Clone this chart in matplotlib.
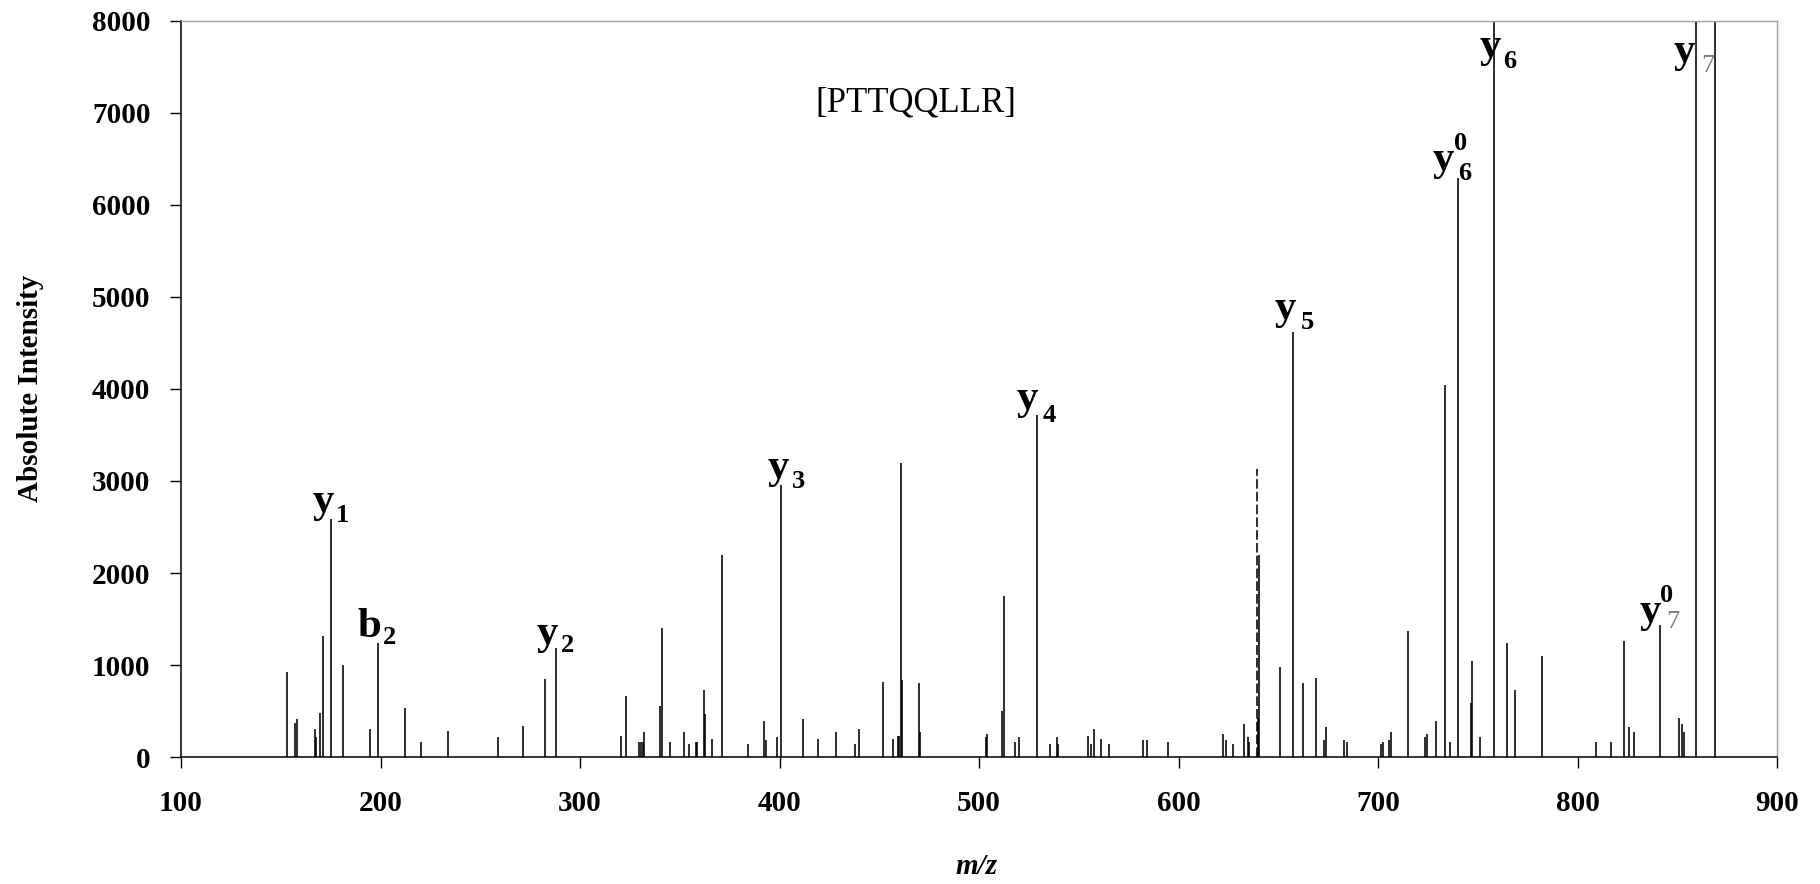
import matplotlib
matplotlib.use("Agg")
import matplotlib.pyplot as plt

# ---- data (m/z, absolute intensity) ----
mz = [153.3, 157.1, 158.0, 167.2, 167.8, 169.5, 171.2, 175.4, 181.0, 194.9,
      198.9, 212.1, 220.1, 234.0, 258.7, 271.6, 282.3, 288.0, 320.6, 323.1,
      329.4, 330.4, 331.4, 331.9, 340.1, 341.0, 345.0, 352.3, 354.8, 358.0,
      358.8, 362.0, 362.8, 366.2, 371.0, 384.2, 392.0, 393.0, 398.9, 401.0,
      412.0, 419.3, 428.2, 438.0, 439.7, 451.9, 456.7, 459.2, 460.0, 460.9,
      461.5, 469.7, 470.5, 503.3, 504.1, 511.5, 512.3, 518.0, 520.3, 529.3,
      535.8, 539.0, 539.8, 554.6, 556.3, 557.8, 561.3, 565.3, 582.3, 584.0,
      594.7, 622.4, 623.9, 627.3, 632.9, 634.7, 635.5, 639.6, 640.2, 651.0,
      657.5, 662.5, 669.1, 673.1, 673.9, 682.8, 684.5, 701.6, 702.4, 705.7,
      706.5, 714.9, 723.7, 724.4, 729.2, 733.6, 736.0, 740.0, 746.5, 747.3,
      751.3, 758.0, 764.5, 768.5, 782.3, 809.3, 816.6, 823.2, 825.6, 828.2,
      841.2, 851.0, 852.5, 853.4, 859.3, 869.1]
intensity = [924, 373, 409, 308, 214, 482, 1315, 2587, 996, 308,
             1243, 536, 163, 286, 217, 341, 851, 1188, 232, 659,
             163, 163, 163, 268, 554, 1402, 163, 268, 145, 163,
             163, 728, 464, 196, 2199, 145, 391, 181, 214, 2957,
             409, 196, 268, 145, 304, 819, 196, 232, 232, 3192,
             837, 801, 268, 214, 250, 500, 1754, 163, 214, 3717,
             145, 214, 145, 232, 145, 304, 196, 145, 181, 181,
             163, 250, 181, 145, 358, 214, 163, 428, 2196, 978,
             4620, 801, 855, 181, 322, 181, 163, 145, 163, 181,
             268, 1366, 214, 250, 391, 4040, 163, 6290, 587, 1047,
             214, 8600, 1243, 728, 1101, 163, 163, 1261, 322, 268,
             1435, 428, 358, 268, 8600, 8600]

# dashed peak
dashed_mz = [639.5]
dashed_int = [3130]

# fragment annotations: main letter, subscript, superscript, peak m/z
frag_main = ["y", "b", "y", "y", "y", "y", "y", "y", "y", "y"]
frag_sub = ["1", "2", "2", "3", "4", "5", "6", "6", "7", "7"]
frag_sup = ["", "", "", "", "", "", "0", "", "", "0"]
frag_mz = [175.4, 198.9, 288.0, 401.0, 529.3, 657.5, 740.0, 758.0, 859.3, 841.2]

title_text = "[PTTQQLLR]"
xticks = [100, 200, 300, 400, 500, 600, 700, 800, 900]
yticks = [0, 1000, 2000, 3000, 4000, 5000, 6000, 7000, 8000]

# ---- layout (pixel offsets of labels from the peak tops) ----
# (dx_main, dy_main, dx_sub, dy_sub, dx_sup, dy_sup)
offsets = [
    (-8, 7, 11, -3, 0, 0),
    (-9, 6, 11, -1, 0, 0),
    (-9, 4, 11, -4, 0, 0),
    (-3, 7, 17, -3, 0, 0),
    (-10, 6, 12, -7, 0, 0),
    (-8, 13, 14, 3, 0, 0),
    (-14, 8, 7, -2, 3, 28),
    (-3, -36, 16, -47, 0, 0),
    (-11, -41, 12, -51, 0, 0),
    (-9, 3, 13, -3, 7, 23),
]

W, H = 1820, 884
fig = plt.figure(figsize=(W / 100, H / 100), dpi=100)
L, R, T, B = 181, 1777, 21, 757
ax = fig.add_axes([L / W, 1 - B / H, (R - L) / W, (B - T) / H])

serif = "Liberation Serif"

ax.vlines(mz, 0, intensity, colors="black", linewidth=1.15)
ax.vlines(dashed_mz, 0, dashed_int, colors="black", linewidth=1.15,
          linestyles=[(0, (6, 2))])

ax.set_xlim(100, 900)
ax.set_ylim(0, 8000)
ax.set_xticks(xticks)
ax.set_yticks(yticks)
ax.tick_params(axis="both", direction="out", length=8, width=1.0, color="black")
ax.tick_params(axis="y", pad=14)
ax.tick_params(axis="x", pad=16)
for lab in ax.get_xticklabels() + ax.get_yticklabels():
    lab.set_fontfamily(serif)
    lab.set_fontweight("bold")
    lab.set_fontsize(21)

ax.spines["left"].set_color("black")
ax.spines["bottom"].set_color("black")
ax.spines["left"].set_linewidth(1.1)
ax.spines["bottom"].set_linewidth(1.1)
ax.spines["top"].set_color("#a0a0a0")
ax.spines["right"].set_color("#a0a0a0")
ax.spines["top"].set_linewidth(1.0)
ax.spines["right"].set_linewidth(1.0)

fig.text(31 / W, 1 - 388 / H, "Absolute Intensity", rotation=90, ha="center",
         va="center", fontfamily=serif, fontweight="bold", fontsize=21)
fig.text(977 / W, 1 - 867 / H, "m/z", ha="center", va="center",
         fontfamily=serif, fontweight="bold", fontstyle="italic", fontsize=21)

ax.text(468.4, 7109, title_text, ha="center", va="center", fontfamily=serif,
        fontsize=25)

peak_lookup = dict(zip(mz, intensity))
for m, s, sp, pm, off in zip(frag_main, frag_sub, frag_sup, frag_mz, offsets):
    top = min(peak_lookup[pm], 8000)
    dxm, dym, dxs, dys, dxp, dyp = off
    ax.annotate(m, xy=(pm, top), xytext=(dxm, dym), textcoords="offset pixels",
                ha="center", va="baseline", fontfamily=serif,
                fontweight="bold", fontsize=31, annotation_clip=False)
    sub_color = "#7a7a7a" if s == "7" else "black"
    sub_weight = "normal" if s == "7" else "bold"
    ax.annotate(s, xy=(pm, top), xytext=(dxs, dys), textcoords="offset pixels",
                ha="center", va="baseline", fontfamily=serif,
                fontweight=sub_weight, color=sub_color, fontsize=19,
                annotation_clip=False)
    if sp:
        ax.annotate(sp, xy=(pm, top), xytext=(dxp, dyp), textcoords="offset pixels",
                    ha="center", va="baseline", fontfamily=serif,
                    fontweight="bold", fontsize=19, annotation_clip=False)

fig.savefig("out.png", dpi=100)
